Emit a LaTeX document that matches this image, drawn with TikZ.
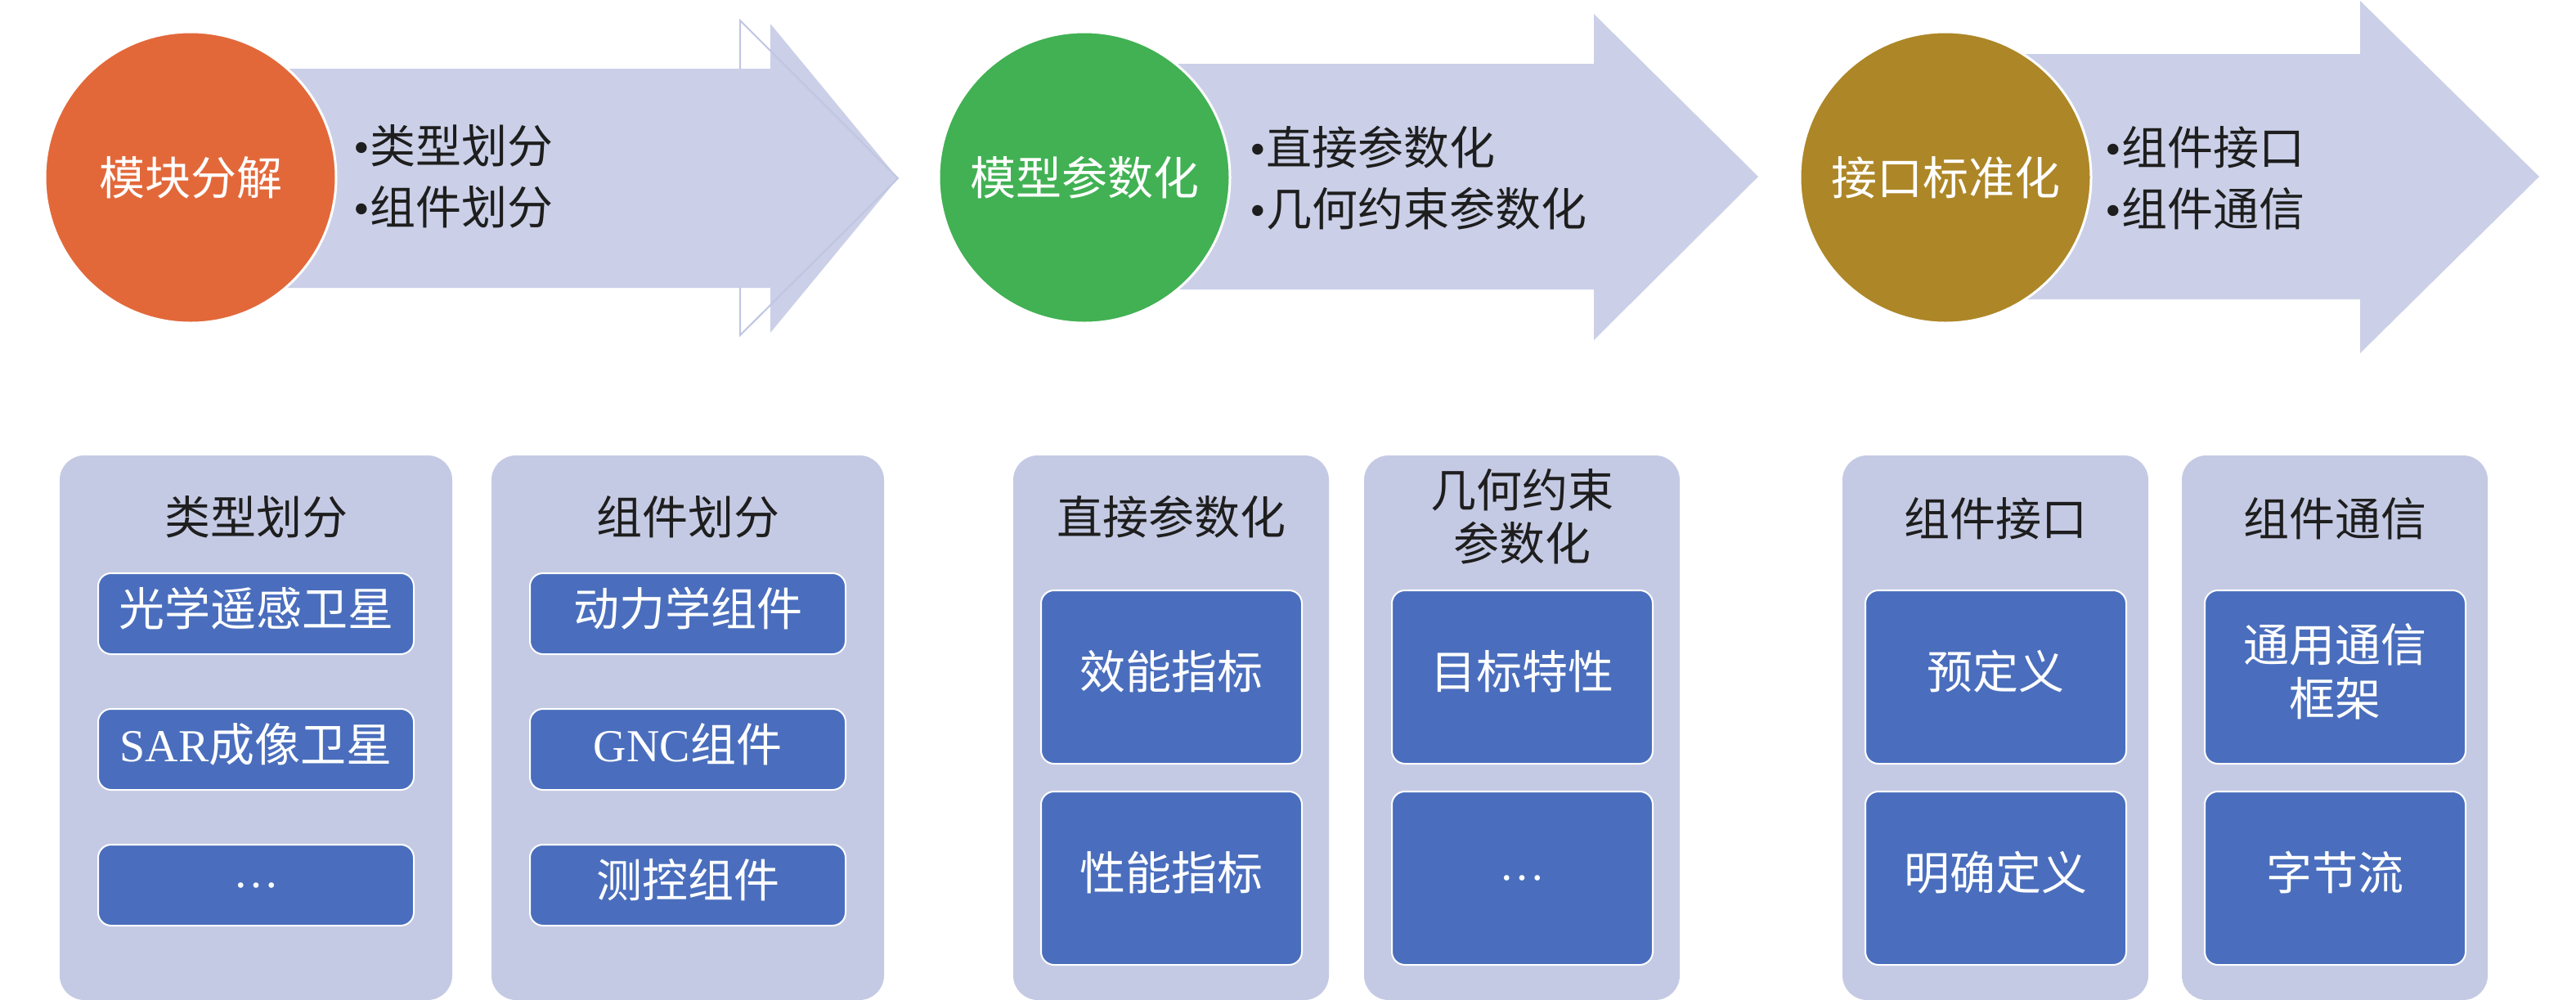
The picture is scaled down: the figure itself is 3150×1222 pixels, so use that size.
\documentclass[tikz,border=0pt]{standalone}
\usepackage{fontspec}
\setmainfont{Liberation Serif}
\newfontfamily\cjk{Noto Sans CJK SC}
\newcommand\cjktxt{\cjk\fontsize{28pt}{33pt}\selectfont}
\newcommand\cjkbul{\cjk\fontsize{28pt}{37.5pt}\selectfont}
\definecolor{orangec}{HTML}{E2683A}
\definecolor{greenc}{HTML}{41B153}
\definecolor{goldc}{HTML}{AD8627}
\definecolor{arrowc}{HTML}{CBD0E8}
\definecolor{ghostc}{HTML}{C0C6E2}
\definecolor{panelc}{HTML}{C5CAE4}
\definecolor{innerc}{HTML}{4A6EBD}
\definecolor{darktext}{HTML}{1E1E1E}
\tikzset{
  arrowshape/.style={fill=arrowc, draw=none},
  ghostshape/.style={draw=ghostc, line width=1pt, line join=miter},
  bigcirc/.style={circle, minimum size=178pt, inner sep=0pt, draw=white, line width=1.5pt, text=white, font=\cjktxt},
  bullets/.style={anchor=west, align=left, text=darktext, font=\cjkbul, inner sep=0pt},
  panelbox/.style={rectangle, rounded corners=15pt, fill=panelc, draw=none, minimum height=333pt, inner sep=0pt},
  titletext/.style={align=center, text=darktext, font=\cjktxt, inner sep=0pt},
  innerbox/.style={rectangle, rounded corners=8pt, fill=innerc, draw=white, line width=1pt, text=white, font=\cjktxt, align=center, inner sep=0pt},
  raised/.style={text depth=9pt},
  smallrow/.style={innerbox, minimum width=193pt, minimum height=49.5pt},
  bigrow/.style={innerbox, minimum width=159.5pt, minimum height=106pt},
}
\begin{document}
\begin{tikzpicture}[x=0.5pt, y=-0.5pt]
\useasboundingbox (0,0) rectangle (3150,1222);
% ---- top arrows ----
\path[arrowshape] (300,84) -- (942,84) -- (942,29) -- (1098,218) -- (942,407) -- (942,352) -- (300,352) -- cycle;
\draw[ghostshape] (905,84) -- (905,25) -- (1098,218) -- (905,410) -- (905,352);
\path[arrowshape] (1380,78) -- (1949,78) -- (1949,17) -- (2150,216) -- (1949,416) -- (1949,354) -- (1380,354) -- cycle;
\path[arrowshape] (2420,66) -- (2886,66) -- (2886,1) -- (3105,216) -- (2886,432) -- (2886,366) -- (2420,366) -- cycle;
% ---- circles ----
\node[bigcirc, fill=orangec] (c1) at (233,217) {模块分解};
\node[bigcirc, fill=greenc] (c2) at (1326,217) {模型参数化};
\node[bigcirc, fill=goldc] (c3) at (2379,217) {接口标准化};
% ---- bullet texts ----
\node[bullets] (t1) at (432,216) {{\rmfamily •}类型划分\\{\rmfamily •}组件划分};
\node[bullets] (t2) at (1528,218) {{\rmfamily •}直接参数化\\{\rmfamily •}几何约束参数化};
\node[bullets] (t3) at (2574,218) {{\rmfamily •}组件接口\\{\rmfamily •}组件通信};
% ---- panels ----
\node[panelbox, minimum width=240pt] (p1) at (313,890) {};
\node[panelbox, minimum width=240pt] (p2) at (841,890) {};
\node[panelbox, minimum width=193pt] (p3) at (1432,890) {};
\node[panelbox, minimum width=193pt] (p4) at (1861,890) {};
\node[panelbox, minimum width=187pt] (p5) at (2440,890) {};
\node[panelbox, minimum width=187pt] (p6) at (2855,890) {};
% ---- panel titles ----
\node[titletext] (h1) at (313,632) {类型划分};
\node[titletext] (h2) at (841,632) {组件划分};
\node[titletext] (h3) at (1432,632) {直接参数化};
\node[titletext, font=\cjk\fontsize{28pt}{32.5pt}\selectfont] (h4) at (1861,632) {几何约束\\参数化};
\node[titletext] (h5) at (2440,634) {组件接口};
\node[titletext] (h6) at (2855,634) {组件通信};
% ---- inner boxes ----
\node[smallrow, raised] (b11) at (313,750.5) {光学遥感卫星};
\node[smallrow, raised] (b12) at (313,916.5) {{\rmfamily SAR}成像卫星};
\node[smallrow] (b13) at (313,1082.5) {\rmfamily …};
\node[smallrow, raised] (b21) at (841,750.5) {动力学组件};
\node[smallrow, raised] (b22) at (841,916.5) {{\rmfamily GNC}组件};
\node[smallrow, raised] (b23) at (841,1082.5) {测控组件};
\node[bigrow, raised] (b31) at (1432.5,828) {效能指标};
\node[bigrow, raised] (b32) at (1432.5,1074) {性能指标};
\node[bigrow, raised] (b41) at (1861.5,828) {目标特性};
\node[bigrow] (b42) at (1861.5,1074) {\rmfamily …};
\node[bigrow, raised] (b51) at (2440.5,828) {预定义};
\node[bigrow, raised] (b52) at (2440.5,1074) {明确定义};
\node[bigrow, raised] (b61) at (2855.5,828) {通用通信\\框架};
\node[bigrow, raised] (b62) at (2855.5,1074) {字节流};
\end{tikzpicture}
\end{document}
